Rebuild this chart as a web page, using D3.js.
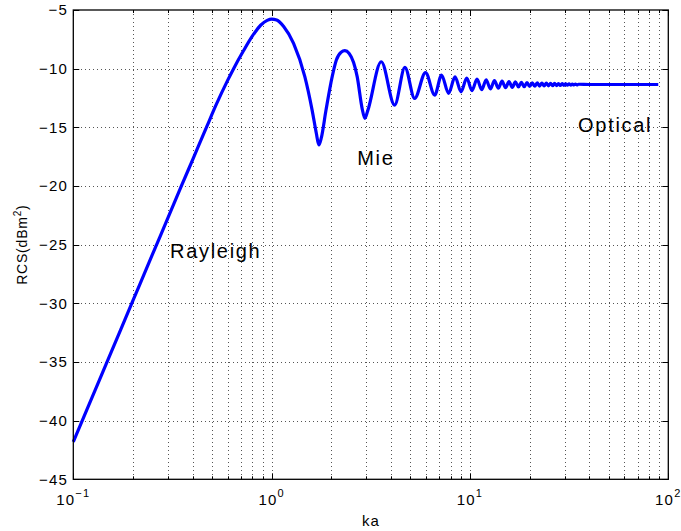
<!DOCTYPE html>
<html>
<head>
<meta charset="utf-8">
<script src="https://cdn.jsdelivr.net/npm/d3@7/dist/d3.min.js"></script>
<style>
  html, body { margin: 0; padding: 0; background: #fff; }
  svg { display: block; }
  text { font-family: "Liberation Sans", Arial, Helvetica, sans-serif; fill: #000; }
</style>
</head>
<body>
<svg id="chart" width="681" height="531"></svg>
<script>
// Monostatic RCS of a sphere versus electrical size ka
const kaValues = [
  0.1, 0.12, 0.15, 0.2, 0.25, 0.3, 0.35, 0.4, 0.472, 0.526, 0.6, 0.643, 0.72, 0.796, 0.88, 0.95,
  1.0, 1.06, 1.15, 1.29, 1.47, 1.6, 1.68, 1.73, 1.78, 1.88, 2.02, 2.12, 2.24, 2.34, 2.46, 2.7,
  2.86, 2.95, 3.05, 3.57, 4.17, 4.7, 5.26, 5.97, 6.64,
  7.19, 7.8, 8.41, 9.02, 9.63, 10.24, 10.85, 11.46, 12.07, 12.68, 13.29, 13.9, 14.51, 15.12,
  15.73, 16.34, 16.95, 17.56, 18.17, 18.78, 19.39, 20.0, 20.61, 21.22, 21.83, 22.44, 23.05,
  23.66, 24.27, 24.88, 25.49, 26.1, 26.71, 27.32, 27.93, 28.54, 29.15, 29.76, 30.37, 30.98,
  31.59, 32.2, 32.81, 33.42, 34.03, 34.64, 35.25, 40, 50, 60, 70, 80, 89
];
const rcsValues = [
  -41.8, -38.64, -34.76, -29.76, -25.88, -22.72, -20.04, -17.75, -14.9, -13.05, -11.0, -10.0, -8.5, -7.27, -6.3, -5.88,
  -5.77, -5.85, -6.4, -7.84, -10.68, -13.53, -15.5, -16.5, -15.9, -13.53, -10.68, -9.26, -8.6, -8.47, -8.7, -10.68,
  -13.4, -14.23, -13.6, -9.41, -13.1, -9.89, -12.53, -10.34, -12.25,
  -10.55, -12.1, -10.7, -11.97, -10.8, -11.87, -10.89, -11.79, -10.96, -11.72, -11.02, -11.66, -11.07, -11.62,
  -11.1, -11.59, -11.13, -11.56, -11.16, -11.54, -11.18, -11.52, -11.2, -11.5, -11.21, -11.48, -11.23,
  -11.47, -11.24, -11.46, -11.25, -11.45, -11.26, -11.44, -11.27, -11.43, -11.28, -11.42, -11.29, -11.41,
  -11.3, -11.4, -11.31, -11.39, -11.32, -11.38, -11.33, -11.35, -11.35, -11.35, -11.35, -11.35, -11.35
];
const yTicks = [-45, -40, -35, -30, -25, -20, -15, -10, -5];
const xMajorTicks = [0.1, 1, 10, 100];
const xTickExponents = ["\u22121", "0", "1", "2"];
const regionLabels = [
  { text: "Rayleigh", ka: 0.3074, rcs: -26.1 },
  { text: "Mie", ka: 2.7, rcs: -18.21 },
  { text: "Optical", ka: 35.1, rcs: -15.36 }
];

const svg = d3.select("#chart");
const plotLeft = 73.3, plotRight = 668.3, plotTop = 10, plotBottom = 479.3;

const x = d3.scaleLog().domain([0.1, 100]).range([plotLeft, plotRight]);
const y = d3.scaleLinear().domain([-45, -5]).range([plotBottom, plotTop]);

// minor log positions 2..9 in each decade
const xMinor = [];
[0.1, 1, 10].forEach(d => { for (let m = 2; m <= 9; m++) xMinor.push(+(d * m).toPrecision(3)); });

const grid = svg.append("g").attr("stroke", "#555").attr("stroke-width", 1)
  .attr("stroke-dasharray", "1,3").attr("shape-rendering", "crispEdges");
grid.selectAll("line.v").data(xMinor.concat([1, 10])).join("line")
  .attr("x1", d => Math.round(x(d)) + 0.5).attr("x2", d => Math.round(x(d)) + 0.5)
  .attr("y1", plotTop).attr("y2", plotBottom);
grid.selectAll("line.h").data(yTicks.slice(1, -1)).join("line")
  .attr("x1", plotLeft).attr("x2", plotRight)
  .attr("y1", d => Math.round(y(d)) + 0.5).attr("y2", d => Math.round(y(d)) + 0.5);

// ticks (inside, on all four sides)
const ticks = svg.append("g").attr("stroke", "#000").attr("stroke-width", 1);
yTicks.forEach(v => {
  const yy = Math.round(y(v)) + 0.5;
  ticks.append("line").attr("x1", plotLeft).attr("x2", plotLeft + 6).attr("y1", yy).attr("y2", yy);
  ticks.append("line").attr("x1", plotRight - 6).attr("x2", plotRight).attr("y1", yy).attr("y2", yy);
});
xMajorTicks.forEach(v => {
  const xx = Math.round(x(v)) + 0.5;
  ticks.append("line").attr("x1", xx).attr("x2", xx).attr("y1", plotBottom).attr("y2", plotBottom - 6);
  ticks.append("line").attr("x1", xx).attr("x2", xx).attr("y1", plotTop).attr("y2", plotTop + 6);
});
xMinor.forEach(v => {
  const xx = Math.round(x(v)) + 0.5;
  ticks.append("line").attr("x1", xx).attr("x2", xx).attr("y1", plotBottom).attr("y2", plotBottom - 3);
  ticks.append("line").attr("x1", xx).attr("x2", xx).attr("y1", plotTop).attr("y2", plotTop + 3);
});

// curve
const pts = kaValues.map((k, i) => [k, rcsValues[i]]);
const line = d3.line().x(d => x(d[0])).y(d => y(d[1])).curve(d3.curveMonotoneX);
svg.append("path").datum(pts).attr("d", line)
  .attr("fill", "none").attr("stroke", "#0000ff").attr("stroke-width", 3.2)
  .attr("stroke-linejoin", "round").attr("stroke-linecap", "butt");

// axes box
svg.append("rect").attr("x", plotLeft).attr("y", plotTop)
  .attr("width", plotRight - plotLeft).attr("height", plotBottom - plotTop)
  .attr("fill", "none").attr("stroke", "#000").attr("stroke-width", 1.3);

// y tick labels
svg.append("g").selectAll("text").data(yTicks).join("text")
  .attr("x", 68).attr("y", d => y(d)).attr("dy", "0.36em")
  .attr("text-anchor", "end").attr("font-size", 15).attr("letter-spacing", 1.2)
  .text(d => d < 0 ? "\u2212" + Math.abs(d) : d);

// x tick labels: 10 with exponent
xMajorTicks.forEach((v, i) => {
  const t = svg.append("text").attr("x", x(v)).attr("y", 505)
    .attr("text-anchor", "middle").attr("font-size", 15).attr("letter-spacing", 1.2);
  t.append("tspan").text("10");
  t.append("tspan").attr("dy", -8).attr("font-size", 11).text(xTickExponents[i]);
});

// axis titles
svg.append("text").attr("x", (plotLeft + plotRight) / 2).attr("y", 526)
  .attr("text-anchor", "middle").attr("font-size", 15).attr("letter-spacing", 1).text("ka");

const yl = svg.append("text")
  .attr("transform", `translate(27,${(plotTop + plotBottom) / 2}) rotate(-90)`)
  .attr("text-anchor", "middle").attr("font-size", 14).attr("letter-spacing", 0.8);
yl.append("tspan").text("RCS(dBm");
yl.append("tspan").attr("dy", -6).attr("font-size", 10).text("2");
yl.append("tspan").attr("dy", 6).text(")");

// region annotations
svg.append("g").selectAll("text").data(regionLabels).join("text")
  .attr("x", d => x(d.ka)).attr("y", d => y(d.rcs))
  .attr("font-size", 20).attr("letter-spacing", 1.7)
  .text(d => d.text);
</script>
</body>
</html>
